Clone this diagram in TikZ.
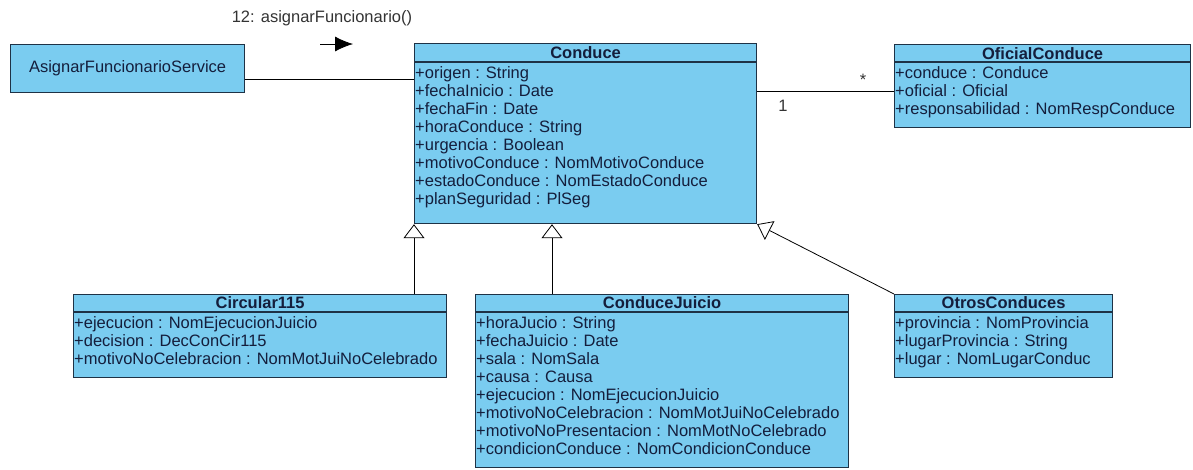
\documentclass[tikz,border=0pt]{standalone}
\usepackage{fontspec}
\setmainfont{Liberation Sans}
\usetikzlibrary{arrows.meta}
\definecolor{classfill}{RGB}{122,204,240}
\definecolor{classline}{RGB}{30,50,70}
\definecolor{classtext}{RGB}{20,30,60}
\tikzset{
  classbox/.style={draw=classline, line width=1.2pt, fill=classfill,
    anchor=north west, inner sep=0pt},
  classname/.style={font=\fontsize{16.5}{18}\bfseries, text=classtext},
  attrlist/.style={anchor=north west, align=left, inner sep=1pt,
    text=classtext},
  divider/.style={draw=classline, line width=1.2pt},
  assoc/.style={line width=0.8pt},
  generaliza/.style={line width=0.8pt, -{Triangle[open, length=14pt, width=21pt]}},
}
\begin{document}
\begin{tikzpicture}[x=1pt,y=-1pt,font=\fontsize{16.5}{18}\selectfont]
\useasboundingbox (0,0) rectangle (1193,469);
% Service calling the class
\node[classbox, minimum width=234pt, minimum height=48pt] (servicio) at (10,44) {};
\node[text=classtext] at (servicio.center) {AsignarFuncionarioService};
% Message
\node[text=black!80] (mensaje) at (322,18) {12: asignarFuncionario()};
\coordinate (msgA) at ([xshift=-2pt,yshift=-26pt]mensaje.center);
\draw[line width=0.8pt, -{Latex[length=18pt,width=15pt]}] (msgA) -- ++(33,0);
% Conduce
\node[classbox, minimum width=342pt, minimum height=180pt] (conduce) at (414,43) {};
\node[classname] at ([yshift=-10pt]conduce.north) {Conduce};
\draw[divider] ([yshift=-19pt]conduce.north west) -- ([yshift=-19pt]conduce.north east);
\node[attrlist] at ([yshift=-22pt]conduce.north west) {+origen : String\\
  +fechaInicio : Date\\
  +fechaFin : Date\\
  +horaConduce : String\\
  +urgencia : Boolean\\
  +motivoConduce : NomMotivoConduce\\
  +estadoConduce : NomEstadoConduce\\
  +planSeguridad : PlSeg};
% OficialConduce
\node[classbox, minimum width=296pt, minimum height=83pt] (oficial) at (894,44) {};
\node[classname] at ([yshift=-10pt]oficial.north) {OficialConduce};
\draw[divider] ([yshift=-18pt]oficial.north west) -- ([yshift=-18pt]oficial.north east);
\node[attrlist] at ([yshift=-21pt]oficial.north west) {+conduce : Conduce\\
  +oficial : Oficial\\
  +responsabilidad : NomRespConduce};
% Circular115
\node[classbox, minimum width=373pt, minimum height=83pt] (circular) at (73,294) {};
\node[classname] at ([yshift=-9pt]circular.north) {Circular115};
\draw[divider] ([yshift=-18pt]circular.north west) -- ([yshift=-18pt]circular.north east);
\node[attrlist] at ([yshift=-21pt]circular.north west) {+ejecucion : NomEjecucionJuicio\\
  +decision : DecConCir115\\
  +motivoNoCelebracion : NomMotJuiNoCelebrado};
% ConduceJuicio
\node[classbox, minimum width=373pt, minimum height=173pt] (juicio) at (475,294) {};
\node[classname] at ([yshift=-9pt]juicio.north) {ConduceJuicio};
\draw[divider] ([yshift=-18pt]juicio.north west) -- ([yshift=-18pt]juicio.north east);
\node[attrlist] at ([yshift=-21pt]juicio.north west) {+horaJucio : String\\
  +fechaJuicio : Date\\
  +sala : NomSala\\
  +causa : Causa\\
  +ejecucion : NomEjecucionJuicio\\
  +motivoNoCelebracion : NomMotJuiNoCelebrado\\
  +motivoNoPresentacion : NomMotNoCelebrado\\
  +condicionConduce : NomCondicionConduce};
% OtrosConduces
\node[classbox, minimum width=218pt, minimum height=83pt] (otros) at (894,294) {};
\node[classname] at ([yshift=-9pt]otros.north) {OtrosConduces};
\draw[divider] ([yshift=-18pt]otros.north west) -- ([yshift=-18pt]otros.north east);
\node[attrlist] at ([yshift=-21pt]otros.north west) {+provincia : NomProvincia\\
  +lugarProvincia : String\\
  +lugar : NomLugarConduc};
% Associations
\draw[assoc] ([yshift=-11pt]servicio.east) -- ([yshift=-11pt]servicio.east -| conduce.west);
\coordinate (ladoConduce) at ([yshift=-48pt]conduce.north east);
\draw[assoc] (ladoConduce) -- (ladoConduce -| oficial.west);
\node[text=black!80] at (863,80) {*};
\node[text=black!80] at (783,106) {1};
% Generalizations
\draw[generaliza] (circular.north -| conduce.south west) -- (conduce.south west);
\coordinate (pieJuicio) at ([xshift=77pt]juicio.north west);
\draw[generaliza] (pieJuicio) -- (pieJuicio |- conduce.south);
\draw[generaliza] (otros.north west) -- (conduce.south east);
\end{tikzpicture}
\end{document}
